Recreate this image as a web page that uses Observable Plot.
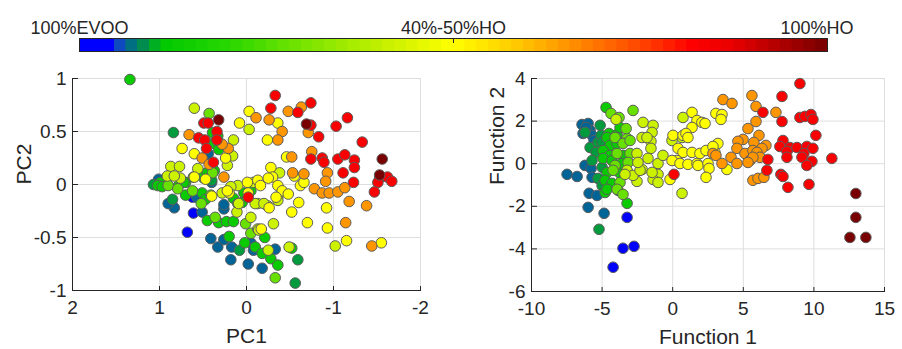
<!DOCTYPE html>
<html><head><meta charset="utf-8">
<script src="https://cdn.jsdelivr.net/npm/d3@7"></script>
<script src="https://cdn.jsdelivr.net/npm/@observablehq/plot@0.6"></script>
<style>
body{margin:0;background:#fff;}
#chart{position:relative;width:902px;height:349px;background:#fff;overflow:hidden;}
#chart svg{position:absolute;overflow:visible;}
</style></head><body><div id="chart"></div>
<script>
// ---- groups (HO % used for colour) ----
const groupCodes = ["B","S","D","G","H","L","Y","O","R","K"];
const groupHO    = [2, 6.5, 9.5, 13, 28, 42, 50, 65, 83, 100];

// ---- colour bar ----
const colorbarLabels = ["100%EVOO", "40%-50%HO", "100%HO"];
const colorbarLabelAt = [0, 50, 98.6];
const colorbarSteps = 64;

// ---- PCA panel ----
const pcaTicksX = [2, 1, 0, -1, -2];
const pcaTicksY = [-1, -0.5, 0, 0.5, 1];
const pc1 = [1.34,0.60,0.43,0.32,0.49,0.44,0.84,0.66,0.55,0.48,0.34,0.34,0.15,0.74,0.60,0.46,0.51,0.38,0.21,0.28,
0.24,0.16,0.44,0.87,0.77,0.56,0.91,0.60,0.76,0.49,0.43,0.37,0.26,0.40,0.08,-0.03,-0.03,-0.11,1.07,-0.01,
-0.13,-0.33,-0.74,-0.28,-0.63,-0.48,-0.59,-1.16,-0.26,-0.36,-0.69,-0.74,-1.03,-0.41,-0.71,-0.83,-0.24,-0.36,-1.33,-0.75,
-0.46,-0.52,-0.74,-0.87,-0.89,-1.05,-1.13,-1.24,-1.56,-0.28,-0.38,-0.53,-0.66,-0.55,-0.93,-1.11,-1.24,-0.91,-1.53,-1.53,
-1.62,-1.67,-1.51,-1.23,-1.47,-0.30,-0.36,-0.62,-0.66,-0.36,-0.41,-0.48,-0.78,-0.87,-0.95,-1.05,-1.13,-1.18,-1.38,-0.92,
-0.60,-0.26,-0.02,-0.08,-0.16,-0.70,-0.93,-1.14,-1.15,-1.02,-1.44,-1.55,-0.52,-0.59,-0.52,0.99,0.90,0.79,0.70,0.49,
0.39,0.40,0.62,0.61,0.86,0.83,0.51,0.68,0.52,0.40,0.45,0.36,0.32,0.41,0.33,0.26,0.17,0.23,0.15,0.20,
0.26,0.11,0.20,0.09,0.18,-0.02,-0.18,0.08,0.02,-0.05,-0.13,-0.21,-0.05,-0.08,-0.10,-0.33,-0.18,-0.25,-0.28,-0.36,
-0.33,-0.56,-0.49,-0.31,0.01,-0.05,-0.14,-0.17,-0.02,-0.24,-0.13,-0.34,0.39,0.33,0.38,0.32,0.32,0.22,0.45,0.83,
0.72,0.61,0.47,1.02,0.97,0.79,0.62,0.70,0.57,0.85,0.51,0.47,0.41,0.28,0.22,0.10,0.03,-0.05,-0.25,-0.10,
-0.20,-0.36,0.15,0.10,0.05,1.01,0.90,0.26,0.18];
const pc2 = [0.99,0.72,0.67,0.61,0.58,0.58,0.49,0.47,0.44,0.42,0.50,0.42,0.42,0.34,0.29,0.34,0.25,0.21,0.34,0.38,
0.25,0.27,0.29,0.17,0.17,0.15,0.08,0.07,0.06,0.06,0.19,0.13,0.07,0.04,0.58,0.69,0.52,0.63,0.00,0.02,
0.04,0.84,0.77,0.72,0.73,0.69,0.68,0.63,0.61,0.58,0.57,0.56,0.55,0.50,0.49,0.45,0.42,0.42,0.40,0.31,
0.26,0.26,0.24,0.25,0.21,0.24,0.28,0.23,0.24,0.16,0.11,0.11,0.10,0.08,0.11,0.11,0.16,0.03,0.09,0.06,
0.07,0.03,0.02,0.02,-0.07,0.07,-0.01,-0.01,0.02,-0.12,-0.06,-0.09,-0.04,-0.08,-0.08,-0.07,-0.03,-0.16,-0.20,-0.22,
-0.17,-0.22,-0.12,0.02,-0.01,-0.36,-0.41,-0.36,-0.53,-0.58,-0.58,-0.55,-0.60,-0.71,-0.26,0.02,-0.01,-0.02,0.02,0.10,
0.11,0.02,-0.12,-0.27,-0.16,-0.22,-0.26,-0.45,-0.18,-0.11,-0.34,-0.31,-0.36,-0.51,-0.59,-0.52,-0.59,-0.35,-0.35,-0.49,
-0.23,-0.26,-0.08,-0.18,-0.71,-0.75,-0.79,-0.62,-0.55,-0.46,-0.42,-0.50,-0.55,-0.62,-0.59,-0.61,-0.65,-0.62,-0.70,-0.76,
-0.88,-0.93,-0.59,-0.37,-0.37,-0.31,-0.43,-0.42,-0.08,-0.20,-0.18,-0.12,0.49,0.46,0.39,0.40,0.33,0.18,0.11,0.08,
0.02,0.07,0.05,-0.01,-0.02,-0.04,-0.06,-0.10,-0.12,-0.14,-0.08,-0.14,-0.10,-0.08,-0.06,-0.01,-0.08,-0.06,0.06,-0.18,
-0.18,-0.15,-0.13,-0.18,-0.17,0.05,-0.18,-0.19,-0.02];
const pcaGroup = ["G","L","H","K","R","R","D","O","R","R","R","R","L","Y","Y","R","O","R","O","O",
"Y","L","S","L","L","L","L","Y","L","G","O","G","O","D","Y","Y","L","O","D","Y",
"Y","R","R","R","O","O","R","R","O","Y","K","R","R","O","O","R","Y","O","R","O",
"Y","O","R","R","R","R","R","R","K","Y","L","O","O","Y","O","R","R","O","K","R",
"R","R","R","R","R","Y","Y","Y","Y","L","Y","Y","O","O","O","O","O","O","O","Y",
"Y","Y","R","L","Y","Y","Y","O","Y","L","O","Y","G","D","Y","G","H","G","G","G",
"H","S","B","B","S","S","S","B","H","Y","G","H","G","S","S","S","S","G","G","G",
"S","L","Y","L","S","S","S","D","G","H","L","G","S","S","G","S","G","L","G","G",
"H","D","L","L","H","L","L","Y","Y","L","L","Y","G","G","G","G","G","L","G","L",
"G","G","Y","G","G","H","H","G","S","D","G","G","H","L","Y","L","G","G","Y","L",
"L","L","G","G","G","S","S","S","L"];

// ---- Discriminant panel ----
const daTicksX = [-10, -5, 0, 5, 10, 15];
const daTicksY = [-6, -4, -2, 0, 2, 4];
const fn1 = [-3.23,-3.52,-2.74,-4.22,
-6.42,-5.99,-5.85,-6.35,-5.71,-5.57,-6.21,-5.78,-5.71,-7.48,-6.77,-5.92,-5.36,-5.99,-4.86,-6.14,
-5.14,-5.85,-5.29,-5.43,-6.21,-5.22,-5.71,-5.07,-5.00,-5.00,-5.29,-5.00,
-4.72,-4.51,-3.94,-3.73,-3.23,-4.79,-3.87,-4.65,-4.44,-3.94,-4.93,-4.44,-3.52,-4.93,-4.30,-3.59,-4.65,-3.73,-4.79,-4.30,-4.65,
-4.08,-3.23,-3.52,-3.02,-3.94,-3.02,-4.08,-3.16,-4.22,-3.73,-3.94,-3.52,-4.37,-3.80,-2.81,-3.30,
-2.53,-3.23,-4.01,-2.10,-1.39,-1.46,-2.17,-1.54,-1.54,-1.75,-2.17,-1.04,-0.69,-1.04,-1.39,-2.53,-2.81,-3.38,-2.31,-2.46,-1.46,-1.04,0.66,0.73,0.66,-0.05,-1.82,
1.37,1.72,2.07,2.29,3.06,3.49,3.42,1.37,0.02,0.73,0.94,1.08,0.38,0.73,1.37,0.30,-0.05,0.52,1.08,1.72,-0.19,1.93,2.36,2.99,1.79,2.50,2.57,3.84,2.36,3.20,2.85,
3.56,4.20,5.61,5.90,7.31,5.90,5.33,6.11,4.98,4.62,4.55,5.75,6.60,6.32,2.85,3.06,5.12,5.68,5.97,6.18,5.47,5.68,5.33,4.13,4.55,3.49,5.68,6.04,6.46,
9.01,7.74,6.39,9.01,9.36,9.79,9.93,7.74,10.14,7.81,7.59,8.30,8.80,9.50,9.93,8.09,9.29,9.15,9.86,9.50,8.09,11.27,6.74,6.67,7.66,7.81,8.16,9.65,0.09,
12.97,12.97,12.55,13.68];
const fn2 = [-2.52,-3.97,-3.88,-4.86,
1.84,1.89,1.56,1.42,1.33,1.09,-0.08,-0.22,-0.64,-0.50,-0.60,-1.39,-1.49,-2.05,-2.33,1.70,
1.80,0.76,1.00,0.53,1.47,-3.08,0.15,1.33,1.00,-0.17,-0.69,-1.02,
2.64,1.42,1.37,1.70,-1.86,-1.35,-1.25,1.23,0.86,0.95,0.62,0.39,0.39,0.25,0.15,0.01,-0.41,-0.45,-0.78,-0.92,-1.20,
1.23,1.19,0.95,1.09,0.48,0.48,-0.08,0.06,-0.31,-0.88,-1.20,-1.44,2.36,2.17,2.50,1.65,
0.48,-0.31,2.08,1.94,1.80,1.47,1.23,1.05,0.72,0.25,-0.27,0.01,0.39,-0.50,-0.74,-0.83,-0.55,-0.50,-0.31,0.06,-0.41,-0.88,-1.39,2.17,1.23,1.09,1.23,
2.41,2.03,1.94,1.89,2.36,2.31,2.08,1.70,1.33,1.33,1.42,1.23,0.72,0.53,0.53,0.15,0.15,0.01,-0.03,0.01,-0.74,0.48,0.62,0.53,-0.08,0.01,-0.22,-0.27,-0.64,0.95,0.81,
3.01,2.83,3.20,2.69,2.41,1.98,1.65,1.33,1.14,1.05,0.72,1.00,0.86,0.72,0.48,0.39,0.48,0.62,0.53,0.30,0.15,0.30,0.06,0.30,0.01,0.01,-0.78,-0.69,-0.64,
3.76,3.16,2.41,2.17,2.22,2.31,2.08,1.98,1.33,1.09,0.81,0.76,0.76,0.81,0.72,0.58,0.48,0.30,0.11,-0.08,0.30,0.25,0.20,-0.31,-0.50,-0.60,-1.11,-0.97,-0.50,
-1.40,-2.52,-3.46,-3.46];
const daGroup = [].concat(
  Array(4).fill("B"), Array(16).fill("S"), Array(12).fill("D"), Array(21).fill("G"),
  Array(16).fill("H"), Array(27).fill("L"), Array(31).fill("Y"), Array(29).fill("O"),
  Array(29).fill("R"), Array(4).fill("K"));

// ---- colour ramp (MATLAB-like custom map) ----
const rampStops  = [0, 0.04, 0.05, 0.065, 0.08, 0.095, 0.11, 0.2, 0.3, 0.42, 0.5, 0.58, 0.65, 0.75, 0.82, 0.87, 1];
const rampColors = ["#0000ff","#0000ff","#143cd2","#006496","#00825a","#009b3c","#00c800","#28d700","#78e400",
                    "#cdf200","#ffff00","#ffcd00","#ff9600","#ff4600","#ff0000","#eb0000","#780000"];
const ramp = d3.scaleLinear().domain(rampStops).range(rampColors).interpolate(d3.interpolateRgb).clamp(true);
const colorOpt = {type: "linear", domain: [0, 100], interpolate: t => ramp(t)};

const hoOf = Object.fromEntries(groupCodes.map((g, i) => [g, groupHO[i]]));
const rank = Object.fromEntries(groupCodes.map((g, i) => [g, i]));
const pcaData = d3.sort(pc1.map((v, i) => ({x: v, y: pc2[i], g: pcaGroup[i], ho: hoOf[pcaGroup[i]]})), d => rank[d.g]);
const daData = d3.sort(fn1.map((v, i) => ({x: v, y: fn2[i], g: daGroup[i], ho: hoOf[daGroup[i]]})), d => rank[d.g]);

const INK = "#262626";
const FONT = "'Liberation Sans', Arial, Helvetica, sans-serif";
const root = document.getElementById("chart");

function place(svg, left, top) {
  svg.style.left = left + "px";
  svg.style.top = top + "px";
  root.appendChild(svg);
}

// colour bar
const steps = d3.range(colorbarSteps).map(i => ({x1: i * 100 / colorbarSteps, x2: (i + 1) * 100 / colorbarSteps, v: (i + 0.5) * 100 / colorbarSteps}));
const bar = Plot.plot({
  width: 902, height: 60, marginLeft: 79, marginRight: 75, marginTop: 38, marginBottom: 9,
  style: {fontFamily: FONT, color: INK, background: "transparent", overflow: "visible"},
  x: {domain: [0, 100], axis: null},
  color: colorOpt,
  marks: [
    Plot.rect(steps, {x1: "x1", x2: "x2", fill: "v", stroke: "v", strokeWidth: 0.6, inset: 0, shapeRendering: "crispEdges"}),
    Plot.ruleX([50], {stroke: INK, insetBottom: 8}),
    Plot.frame({stroke: INK}),
    Plot.text(colorbarLabels, {x: (d, i) => colorbarLabelAt[i], frameAnchor: "top", dy: -17, fontSize: 18, fill: INK})
  ]
});
place(bar, 0, 0);

function scatter({data, xDomain, yDomain, xTicks, yTicks, xLabel, yLabel, width, height, mL, mR, mT, mB, yLabelDx}) {
  const iw = width - mL - mR, ih = height - mT - mB;
  return Plot.plot({
    width, height, marginLeft: mL, marginRight: mR, marginTop: mT, marginBottom: mB,
    style: {fontFamily: FONT, fontSize: "19px", color: INK, background: "transparent", overflow: "visible"},
    x: {domain: xDomain},
    y: {domain: yDomain},
    color: colorOpt,
    marks: [
      Plot.gridX({ticks: xTicks, stroke: "#dedede", strokeOpacity: 1}),
      Plot.gridY({ticks: yTicks, stroke: "#dedede", strokeOpacity: 1}),
      Plot.ruleX([xDomain[0]], {stroke: INK}),
      Plot.ruleY([yDomain[0]], {stroke: INK}),
      Plot.axisX({ticks: xTicks, tickSize: 0, tickPadding: 10, tickFormat: d => String(d), label: null, color: INK}),
      Plot.axisX({ticks: xTicks, anchor: "top", tickSize: 5, dy: ih, tickFormat: () => "", label: null, color: INK}),
      Plot.axisY({ticks: yTicks, tickSize: 0, tickPadding: 6, tickFormat: d => String(d), label: null, color: INK}),
      Plot.axisY({ticks: yTicks, anchor: "right", tickSize: 5, dx: -iw, tickFormat: () => "", label: null, color: INK}),
      Plot.dot(data, {x: "x", y: "y", fill: "ho", stroke: "#5c5c5c", strokeWidth: 1, r: 5.3}),
      Plot.text([xLabel], {frameAnchor: "bottom", dy: 52, fontSize: 21, fill: INK}),
      Plot.text([yLabel], {frameAnchor: "left", rotate: -90, dx: yLabelDx, fontSize: 21, fill: INK})
    ]
  });
}

place(scatter({data: pcaData, xDomain: [2, -2], yDomain: [-1, 1], xTicks: pcaTicksX, yTicks: pcaTicksY,
  xLabel: "PC1", yLabel: "PC2", width: 451, height: 289, mL: 72, mR: 31, mT: 18, mB: 59, yLabelDx: -48}), 0, 60);
place(scatter({data: daData, xDomain: [-10, 15], yDomain: [-6, 4], xTicks: daTicksX, yTicks: daTicksY,
  xLabel: "Function 1", yLabel: "Function 2", width: 451, height: 289, mL: 80, mR: 18, mT: 18, mB: 58, yLabelDx: -34}), 451, 60);
</script></body></html>
